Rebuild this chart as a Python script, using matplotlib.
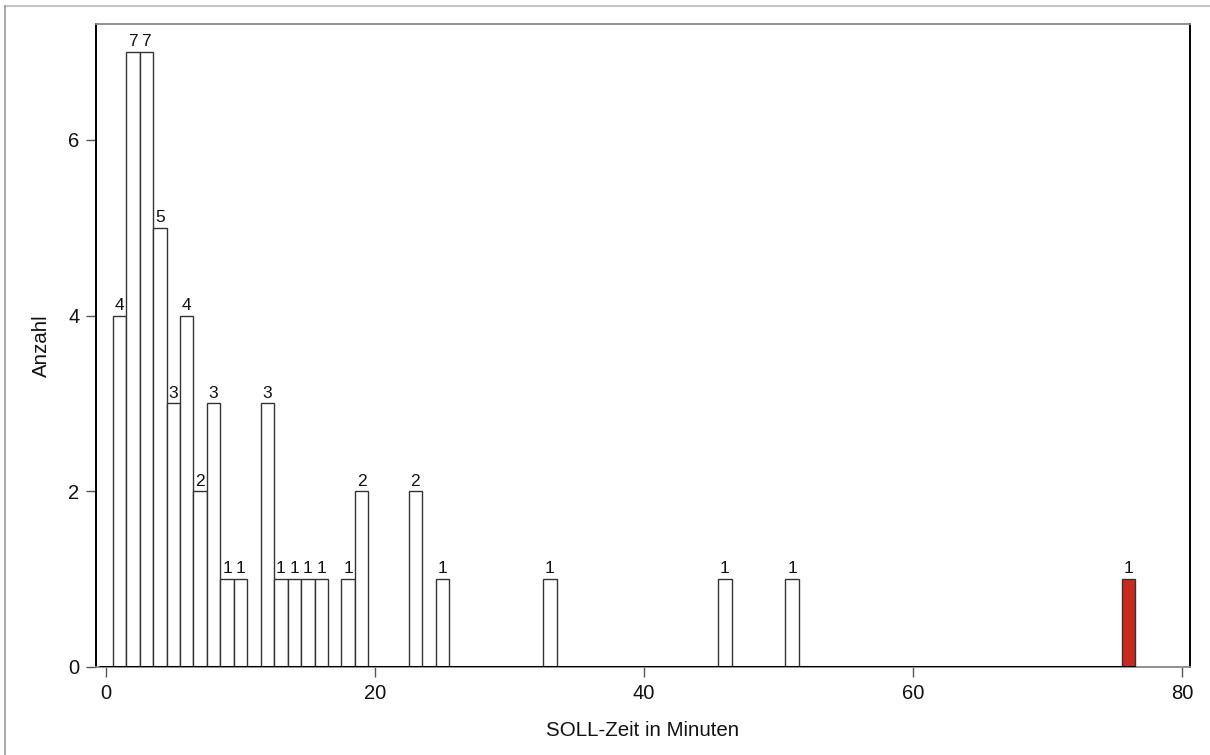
import matplotlib
matplotlib.use("Agg")
import matplotlib.pyplot as plt
from matplotlib.lines import Line2D

# Data: SOLL-Zeit (minutes) and counts
minutes = [1, 2, 3, 4, 5, 6, 7, 8, 9, 10, 12, 13, 14, 15, 16, 18, 19, 23, 25, 33, 46, 51, 76]
counts  = [4, 7, 7, 5, 3, 4, 2, 3, 1, 1, 3, 1, 1, 1, 1, 1, 2, 2, 1, 1, 1, 1, 1]
highlight = [76]

x_ticks = [0, 20, 40, 60, 80]
y_ticks = [0, 2, 4, 6]
x_label = "SOLL-Zeit in Minuten"
y_label = "Anzahl"

plt.rcParams['font.family'] = ['Liberation Sans', 'DejaVu Sans']

fig = plt.figure(figsize=(12.1, 7.55), dpi=100)
ax = fig.add_axes([96/1210, 1 - 667/755, (1190-96)/1210, (667-24)/755])

colors = ['#C92A1F' if m in highlight else 'white' for m in minutes]
bars = ax.bar(minutes, counts, width=1.0, color=colors, edgecolor='#333333',
              linewidth=1.0, zorder=3)

# baseline across the data range
ax.hlines(0, -0.5, max(minutes) + 0.5, color='black', linewidth=2.2, zorder=4)

for m, c in zip(minutes, counts):
    ax.annotate(str(c), (m, c), xytext=(0, 2), textcoords='offset points',
                ha='center', va='bottom', fontsize=12.5, color='#111111')

ax.set_xlim(-0.74, 80.57)
ax.set_ylim(0, 7.32)
ax.set_xticks(x_ticks)
ax.set_yticks(y_ticks)
ax.tick_params(axis='both', labelsize=14.5, colors='#555555', labelcolor='#111111',
               length=7, width=1.0)
ax.tick_params(axis='x', pad=5)
ax.tick_params(axis='y', pad=5)

for s in ['left', 'right']:
    ax.spines[s].set_color('black')
    ax.spines[s].set_linewidth(1.4)
for s in ['top', 'bottom']:
    ax.spines[s].set_color('#888888')
    ax.spines[s].set_linewidth(1.3)

ax.set_xlabel(x_label, fontsize=14.8, color='#111111', labelpad=13)
ax.set_ylabel(y_label, fontsize=14.8, color='#111111', labelpad=12)

# outer figure border (top and left)
fig.add_artist(Line2D([5/1210, 1], [1 - 6/755, 1 - 6/755], transform=fig.transFigure,
                      color='#c4c4c4', linewidth=1.5))
fig.add_artist(Line2D([5/1210, 5/1210], [0, 1 - 6/755], transform=fig.transFigure,
                      color='#999999', linewidth=1.2))

fig.savefig("out.png", dpi=100)
